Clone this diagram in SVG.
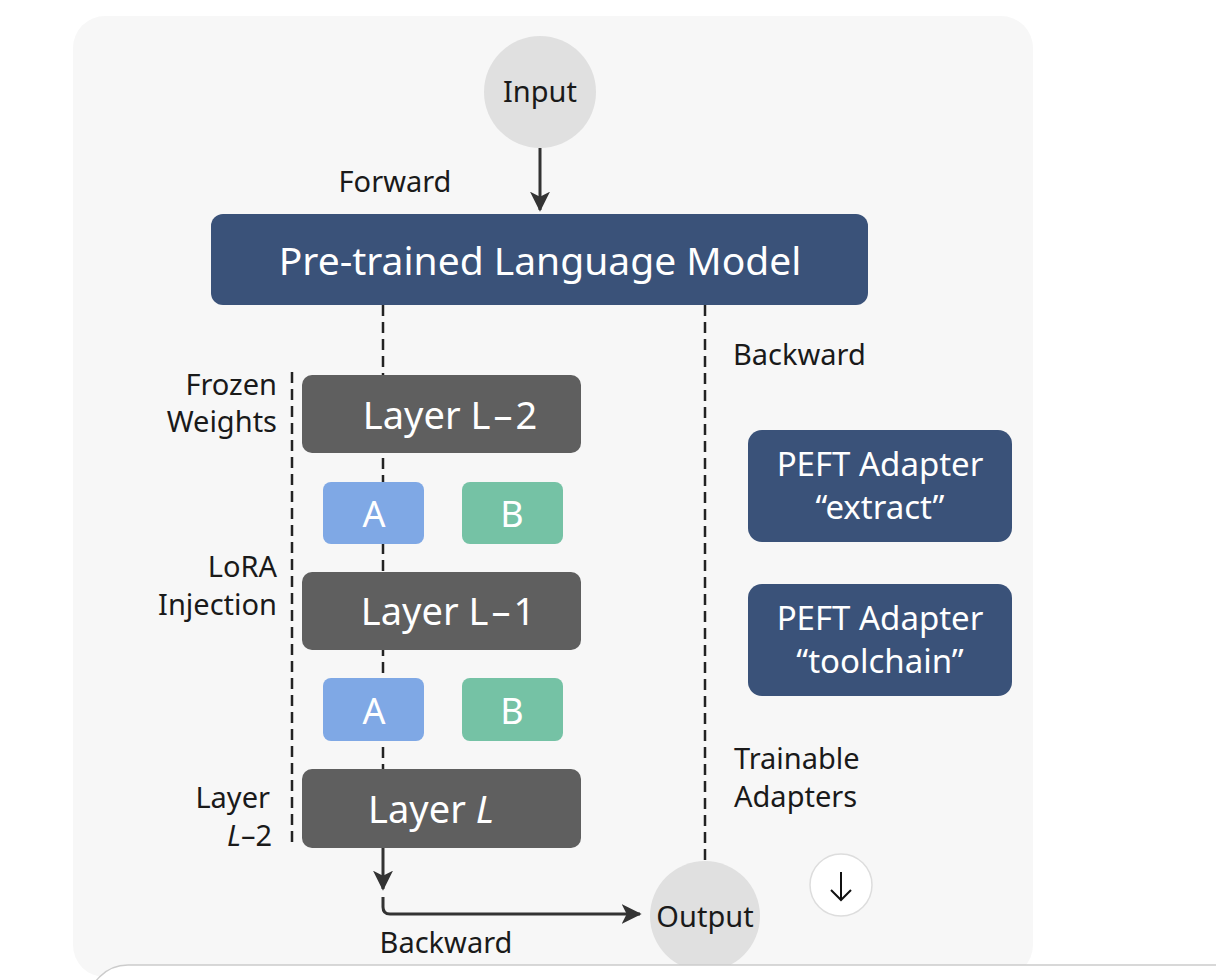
<svg xmlns="http://www.w3.org/2000/svg" width="1216" height="980" viewBox="0 0 1216 980">
<style>
text{font-family:"Noto Sans","Open Sans","Liberation Sans",sans-serif}
.lbl{font-size:29px;fill:#1a1a1a}
.wt{fill:#ffffff}
.layer{fill:#5f5f5f}
.blue{fill:#3a5279}
.dash{stroke:#222;stroke-width:2.5;stroke-dasharray:11 6;fill:none}
.solid{stroke:#333;stroke-width:3;fill:none}
</style>
<defs>
<marker id="ah2" viewBox="0 0 12 12" refX="11" refY="6" markerWidth="20" markerHeight="20" markerUnits="userSpaceOnUse" orient="auto">
<path d="M0,0 L12,6 L0,12 L3,6 z" fill="#333"/>
</marker>
</defs>
<rect width="1216" height="980" fill="#ffffff"/>
<rect id="panel" x="73" y="16" width="960" height="961" rx="32" fill="#f7f7f7"/>

<g id="connectors">
<line class="solid" x1="540" y1="148" x2="540" y2="210" marker-end="url(#ah2)"/>
<line class="dash" x1="383" y1="305" x2="383" y2="769"/>
<line class="dash" x1="705" y1="305" x2="705" y2="861"/>
<line class="dash" x1="292" y1="372" x2="292" y2="846"/>
<line class="solid" x1="383" y1="848" x2="383" y2="889" marker-end="url(#ah2)"/>
<path class="solid" d="M383,897 L383,907 Q383,914 390,914 L640,914" marker-end="url(#ah2)"/>
</g>

<g id="input">
<circle cx="540" cy="92" r="56" fill="#e0e0e0"/>
<text class="lbl" x="540" y="102" text-anchor="middle">Input</text>
</g>
<text id="forward-label" class="lbl" x="395" y="192" text-anchor="middle">Forward</text>

<g id="plm">
<rect class="blue" x="211" y="214" width="657" height="91" rx="12"/>
<text class="wt" x="540" y="275" text-anchor="middle" font-size="39">Pre-trained Language Model</text>
</g>

<text id="backward-right" class="lbl" x="733" y="365">Backward</text>

<g id="frozen-label">
<text class="lbl" x="277" y="395" text-anchor="end">Frozen</text>
<text class="lbl" x="277" y="432" text-anchor="end">Weights</text>
</g>

<g id="layer-l2">
<rect class="layer" x="302" y="375" width="279" height="78" rx="10"/>
<text class="wt" x="450" y="429" text-anchor="middle" font-size="38">Layer L<tspan dx="3">–</tspan><tspan dx="3">2</tspan></text>
</g>

<g id="a1">
<rect x="323" y="482" width="101" height="62" rx="8" fill="#7fa8e5"/>
<text class="wt" x="374" y="527" text-anchor="middle" font-size="36">A</text>
</g>
<g id="b1">
<rect x="462" y="482" width="101" height="62" rx="8" fill="#75c2a5"/>
<text class="wt" x="512" y="527" text-anchor="middle" font-size="36">B</text>
</g>

<g id="lora-label">
<text class="lbl" x="277" y="577" text-anchor="end">LoRA</text>
<text class="lbl" x="277" y="615" text-anchor="end">Injection</text>
</g>

<g id="layer-l1">
<rect class="layer" x="302" y="572" width="279" height="78" rx="10"/>
<text class="wt" x="448" y="625" text-anchor="middle" font-size="38">Layer L<tspan dx="3">–</tspan><tspan dx="3">1</tspan></text>
</g>

<g id="a2">
<rect x="323" y="678" width="101" height="63" rx="8" fill="#7fa8e5"/>
<text class="wt" x="374" y="724" text-anchor="middle" font-size="36">A</text>
</g>
<g id="b2">
<rect x="462" y="678" width="101" height="63" rx="8" fill="#75c2a5"/>
<text class="wt" x="512" y="724" text-anchor="middle" font-size="36">B</text>
</g>

<g id="layer-label">
<text class="lbl" x="270" y="808" text-anchor="end">Layer</text>
<text class="lbl" x="272" y="846" text-anchor="end"><tspan font-style="italic">L</tspan>–2</text>
</g>

<g id="layer-l">
<rect class="layer" x="302" y="769" width="279" height="79" rx="10"/>
<text class="wt" x="431" y="823" text-anchor="middle" font-size="38">Layer <tspan font-style="italic">L</tspan></text>
</g>

<g id="peft-extract">
<rect class="blue" x="748" y="430" width="264" height="112" rx="14"/>
<text class="wt" x="880" y="476" text-anchor="middle" font-size="33">PEFT Adapter</text>
<text class="wt" x="880" y="519" text-anchor="middle" font-size="33">“extract”</text>
</g>

<g id="peft-toolchain">
<rect class="blue" x="748" y="584" width="264" height="112" rx="14"/>
<text class="wt" x="880" y="630" text-anchor="middle" font-size="33">PEFT Adapter</text>
<text class="wt" x="880" y="673" text-anchor="middle" font-size="33">“toolchain”</text>
</g>

<g id="trainable-label">
<text class="lbl" x="734" y="769">Trainable</text>
<text class="lbl" x="734" y="807">Adapters</text>
</g>

<g id="down-button">
<circle cx="841" cy="885" r="31" fill="#ffffff" stroke="#dddddd" stroke-width="1.5"/>
<path d="M841,872 L841,900 M831,890 L841,900 L851,890" fill="none" stroke="#111" stroke-width="2"/>
</g>

<g id="output">
<circle cx="705" cy="916" r="55" fill="#e0e0e0"/>
<text class="lbl" x="705" y="927" text-anchor="middle">Output</text>
</g>

<text id="backward-bottom" class="lbl" x="446" y="953" text-anchor="middle">Backward</text>

<rect id="bottom-panel" x="88" y="965" width="1200" height="120" rx="40" fill="#ffffff" stroke="#cccccc" stroke-width="1.5"/>
</svg>
